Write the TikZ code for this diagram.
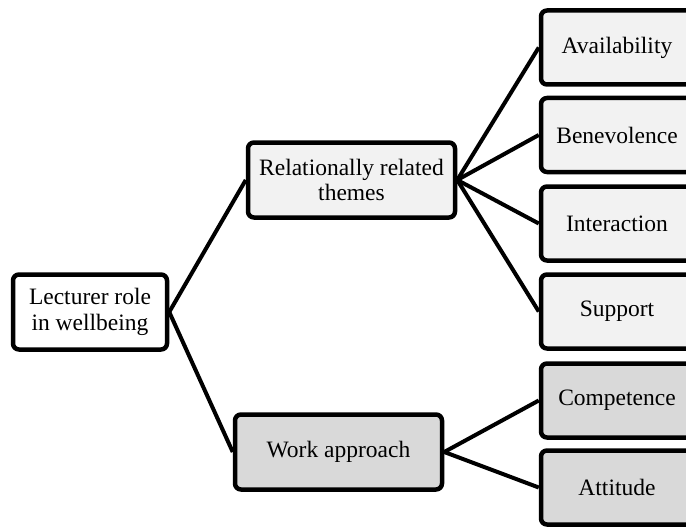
\documentclass[tikz,border=0pt]{standalone}
\usepackage{fontspec}
\setmainfont{Liberation Serif}
\usepackage{tikz}

\begin{document}
\begin{tikzpicture}[x=1pt,y=-1pt]
	\tikzstyle{box}=[draw=black,line width=4.5pt,rounded corners=6pt,align=center,inner sep=2pt,font=\fontsize{23.5}{25.5}\selectfont]
	\tikzstyle{rootbox}=[box,fill=white,minimum width=154pt,minimum height=75pt]
	\tikzstyle{midbox}=[box,minimum width=207pt,minimum height=75pt]
	\tikzstyle{leafbox}=[box,minimum width=152pt,minimum height=74pt]
	\tikzstyle{link}=[line width=4pt]
	\useasboundingbox (0,0) rectangle (686,527);
	\node[rootbox] (root) at (90,312) {Lecturer role\\in wellbeing};
	\node[midbox,fill=black!5] (rel) at (351.5,180) {Relationally related\\themes};
	\node[midbox,fill=black!15] (work) at (338.5,452) {Work approach};
	\node[leafbox,fill=black!5] (avail) at (617,47.5) {Availability};
	\node[leafbox,fill=black!5] (benev) at (617,135) {Benevolence};
	\node[leafbox,fill=black!5] (inter) at (617,223.5) {Interaction};
	\node[leafbox,fill=black!5] (supp) at (617,311.5) {Support};
	\node[leafbox,fill=black!15] (comp) at (617,400.5) {Competence};
	\node[leafbox,fill=black!15] (att) at (617,487.5) {Attitude};
	\draw[link] (root.east) -- (rel.west);
	\draw[link] (root.east) -- (work.west);
	\draw[link] (rel.east) -- (avail.west);
	\draw[link] (rel.east) -- (benev.west);
	\draw[link] (rel.east) -- (inter.west);
	\draw[link] (rel.east) -- (supp.west);
	\draw[link] (work.east) -- (comp.west);
	\draw[link] (work.east) -- (att.west);
\end{tikzpicture}
\end{document}
